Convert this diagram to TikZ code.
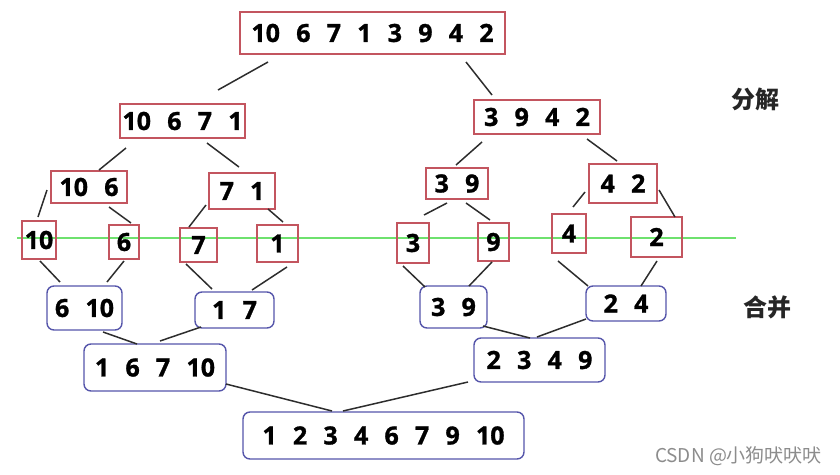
\documentclass[tikz,border=0pt]{standalone}
\usepackage{fontspec}
\newfontfamily\numfont{Open Sans}[WordSpace=2.5, BoldFeatures={FakeBold=1.2}]
\newfontfamily\cjkfont{Noto Sans CJK SC}
\definecolor{splitred}{RGB}{195,85,95}
\definecolor{mergeblue}{RGB}{85,85,170}
\definecolor{cutgreen}{RGB}{110,225,110}
\definecolor{linkgray}{RGB}{45,45,45}
\tikzset{
  numbox/.style={inner sep=0pt, line width=1.4pt, text=black,
    font=\numfont\bfseries\fontsize{25}{30}\selectfont},
  splitbox/.style={numbox, draw=splitred},
  mergebox/.style={numbox, draw=mergeblue, rounded corners=7pt},
  link/.style={draw=linkgray, line width=1.5pt},
  stage/.style={text=black!85, font=\cjkfont\bfseries\fontsize{24}{28}\selectfont}
}

\begin{document}
\begin{tikzpicture}[x=1pt, y=-1pt]
\useasboundingbox (0,0) rectangle (840,474);
% cut line
\coordinate (gl) at (17,238);
\coordinate (gr) at (736,238);
\draw[cutgreen, line width=1.5pt] (gl) -- (gr);
% split
\node[splitbox, minimum width=265, minimum height=42] (T) at (372.5,33) {10 6 7 1 3 9 4 2};
\node[splitbox, minimum width=125, minimum height=34] (L) at (182.5,121) {10 6 7 1};
\node[splitbox, minimum width=126, minimum height=34] (R) at (537,117) {3 9 4 2};
\node[splitbox, minimum width=76, minimum height=32] (LL) at (89,187) {10 6};
\node[splitbox, minimum width=66, minimum height=36] (LR) at (242,191) {7 1};
\node[splitbox, minimum width=62, minimum height=31] (RL) at (457,183.5) {3 9};
\node[splitbox, minimum width=68, minimum height=39] (RR) at (623,183.5) {4 2};
\node[splitbox, minimum width=34, minimum height=38] (a) at (39,240) {10};
\node[splitbox, minimum width=30, minimum height=34] (b) at (124,242) {6};
\node[splitbox, minimum width=37, minimum height=34] (c) at (198.5,245) {7};
\node[splitbox, minimum width=41, minimum height=37] (d) at (277.5,243.5) {1};
\node[splitbox, minimum width=32, minimum height=40] (e) at (413,243) {3};
\node[splitbox, minimum width=31, minimum height=38] (f) at (493.5,242) {9};
\node[splitbox, minimum width=34, minimum height=39] (g) at (569,233.5) {4};
\node[splitbox, minimum width=51, minimum height=40] (h) at (656.5,237) {2};
% merge
\node[mergebox, minimum width=75, minimum height=44] (m1) at (84.5,308) {6 10};
\node[mergebox, minimum width=79, minimum height=36] (m2) at (234.5,310) {1 7};
\node[mergebox, minimum width=67, minimum height=42] (m3) at (453.5,307) {3 9};
\node[mergebox, minimum width=80, minimum height=35] (m4) at (626,303.5) {2 4};
\node[mergebox, minimum width=142, minimum height=47] (n1) at (155,367.5) {1 6 7 10};
\node[mergebox, minimum width=131, minimum height=44] (n2) at (539.5,360) {2 3 4 9};
\node[mergebox, minimum width=281, minimum height=47] (F) at (383.5,435.5) {1 2 3 4 6 7 9 10};
% links
\foreach \a/\ax/\ay/\b/\bx/\by in {
  T/-104.5/29/L/35.5/-31, T/93.5/29/R/-45/-22,
  L/-56.5/27/LL/10/-17, L/24.5/22/LR/-3/-24,
  R/-55/25/RL/-1/-18.5, R/50/22/RR/-6/-22.5,
  LL/-42/3/a/-1/-23, LL/20/20/b/7/-19,
  LR/-36/14/c/-9.5/-18, LR/26/18/d/5.5/-21.5,
  RL/-10/19.5/e/11/-28, RL/9/19.5/f/-3.5/-22,
  RR/-38/8.5/g/4/-26.5, RR/36/6.5/h/18.5/-20,
  a/1/21/m1/-24.5/-26, b/0/19/m1/22.5/-26,
  c/-12.5/19/m2/-22.5/-21, d/9.5/23.5/m2/17.5/-20,
  e/-10/23/m3/-28.5/-20, f/-1.5/20/m3/15.5/-21,
  g/-11/27.5/m4/-38/-17.5, h/0.5/24/m4/15/-17.5,
  m1/18.5/24/n1/-18/-23.5, m2/-33.5/17/n1/5/-26.5,
  m3/29.5/19/n2/-9.5/-22, m4/-40/15.5/n2/-2.5/-23,
  n1/71/16.5/F/-51.5/-24.5, n2/-71.5/22/F/-40.5/-24.5}
  \draw[link] ([shift={(\ax,\ay)}]\a.center) -- ([shift={(\bx,\by)}]\b.center);
% stages
\node[stage] (s1) at (755,99) {分解};
\node[stage] (s2) at (767,307) {合并};
\node[text=black!45, font=\cjkfont\fontsize{19}{22}\selectfont] (wm) at (738.5,456) {CSDN @小狗吠吠吠};
\end{tikzpicture}
\end{document}
